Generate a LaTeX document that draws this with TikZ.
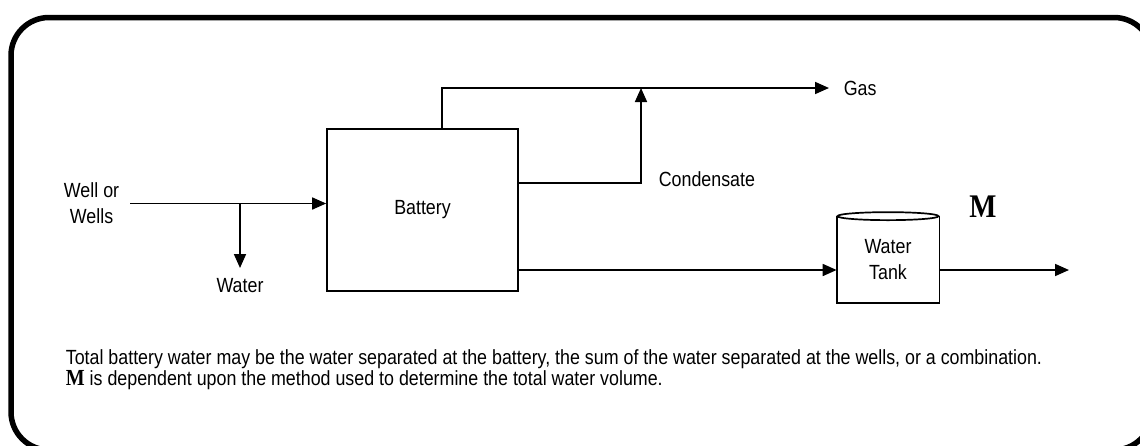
\documentclass[tikz,border=0pt]{standalone}
\usepackage{fontspec}
\setmainfont{Liberation Sans}[FakeStretch=0.87]
\newfontfamily\serifM{Liberation Serif}[FakeStretch=0.87]
\usetikzlibrary{arrows.meta,positioning}

\begin{document}
\begin{tikzpicture}[x=1pt, y=-1pt, line width=1.7pt,
    >={Triangle[length=14pt,width=12pt]},
    lbl/.style={font=\fontsize{20.5}{26}\selectfont, align=center, inner sep=2pt}]

  \useasboundingbox (0,0) rectangle (1140,445);

  % outer frame
  \draw[line width=5.5pt, rounded corners=38pt] (11,17.5) rectangle (1152,450);

  % The battery.
  \node[lbl, draw, minimum width=191pt, minimum height=162pt] (battery)
  at (422.5,210) {Battery};

  % Inflow from the wells, with water taken off on the way.
  \node[lbl, anchor=east, inner xsep=10pt] (well) at (130,203.5) {Well or\\Wells};
  \coordinate (split) at (240,203.5);
  \draw[->] (well.east) -- (well.east -| battery.west);
  \coordinate[below=64.5pt of split] (drain);
  \node[lbl, below=8pt of drain] (water) {Water};
  \draw[->] (split) -- (drain);

  % Gas off the top of the battery.
  \coordinate (gastap) at ([xshift=19.5pt]battery.north);
  \coordinate (gasend) at (829,88);
  \node[lbl, right=12pt of gasend] (gas) {Gas};
  \draw[->] (gastap) |- (gasend);

  % Condensate joins the gas line.
  \coordinate (condtap) at ([yshift=27pt]battery.east);
  \coordinate (condup) at (641,88);
  \draw[->] (condtap) -| (condup);
  \node[lbl, anchor=west] (cond) at (656,179) {Condensate};

  % The water tank.
  \node[lbl, minimum width=101pt, minimum height=85pt] (tank)
  at (888,259.5) {Water\\Tank};
  \draw (tank.north west) -- (tank.south west) -- (tank.south east)
  -- (tank.north east);
  \draw (tank.north) ellipse [x radius=50.5pt, y radius=4pt];

  % Water to the tank and out of it.
  \coordinate (watertap) at ([yshift=-60pt]battery.east);
  \coordinate (outend) at (1069,270);
  \draw[->] (watertap) -- (watertap -| tank.west);
  \draw[->] (watertap -| tank.east) -- (outend);
  \node[font=\serifM\bfseries\fontsize{33}{33}\selectfont] (mlabel)
  at (983,207) {M};

  % Note under the diagram.
  \node[anchor=north west, align=left, inner sep=0pt,
  font=\fontsize{20.5}{21}\selectfont] (note) at (65,349)
  {Total battery water may be the water separated at the battery, the sum of the water separated at the wells, or a combination.\\
    {\serifM\bfseries\fontsize{23}{21}\selectfont M} is dependent upon the method used to determine the total water volume.};
\end{tikzpicture}
\end{document}
